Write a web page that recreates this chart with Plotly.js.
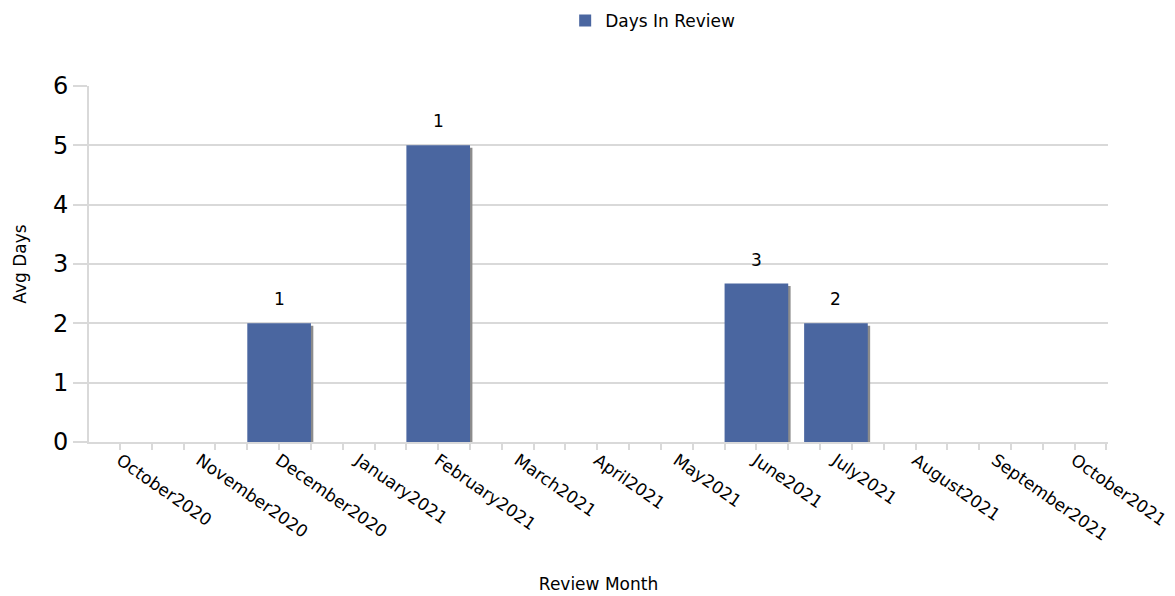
<!DOCTYPE html>
<html><head><meta charset="utf-8">
<script src="https://cdn.plot.ly/plotly-3.0.1.min.js"></script>
<style>body{margin:0;background:#fff}#c{width:1175px;height:596px}</style>
</head><body><div id="c"></div>
<script>
const months = ["October2020","November2020","December2020","January2021","February2021","March2021","April2021","May2021","June2021","July2021","August2021","September2021","October2021"];
const avgDays = [null,null,2,null,5,null,null,null,2.67,2,null,null,null];
const counts = ["","","1","","1","","","","3","2","","",""];

const idx = months.map((m,i)=>i);
const FONT = "DejaVu Sans, Noto Sans, sans-serif";
const BLUE = "#4a66a0";

const shadow = {
  type:"bar", x: idx, y: avgDays, base: -0.04, width: 0.8, offset: -0.37,
  marker:{color:"#8c8c8c"}, hoverinfo:"skip", showlegend:false
};
const bars = {
  type:"bar", x: idx, y: avgDays, width: 0.8, name:"Days In Review",
  marker:{color:BLUE}
};
const labels = idx.filter(i => avgDays[i] !== null).map(i => ({
  x: i, y: avgDays[i], xref:"x", yref:"y", text: counts[i], showarrow:false,
  yanchor:"bottom", yshift: 12, font:{family:FONT, size:17, color:"#000"}
}));

Plotly.newPlot("c",[shadow,bars],{
  width:1175, height:596,
  margin:{l:89, r:67, t:86, b:154, autoexpand:false},
  paper_bgcolor:"#fff", plot_bgcolor:"#fff",
  barmode:"overlay",
  font:{family:FONT, color:"#000"},
  showlegend:true,
  annotations: labels,
  legend:{orientation:"h", xref:"container", yref:"container", x:0.481, xanchor:"left", y:0.995, yanchor:"top", font:{size:17, family:FONT}},
  xaxis:{
    range:[-0.39,12.42],
    tickmode:"array", tickvals: idx, ticktext: months, tickangle:35,
    tickfont:{size:17, family:FONT}, ticks:"", showgrid:false, zeroline:false,
    showline:true, linecolor:"#d9d9d9", linewidth:2,
    minor:{dtick:0.4, tick0:0, ticks:"outside", ticklen:6, tickcolor:"#d9d9d9", tickwidth:2, showgrid:false},
    title:{text:"Review Month", font:{size:17, family:FONT}, standoff:34}
  },
  yaxis:{
    range:[0,6], dtick:1, tickfont:{size:24, family:FONT},
    showgrid:true, gridcolor:"#d9d9d9", gridwidth:2,
    ticks:"outside", ticklen:14, tickcolor:"#d9d9d9", tickwidth:2,
    showline:true, linecolor:"#d9d9d9", linewidth:2, zeroline:false,
    title:{text:"Avg Days", font:{size:17, family:FONT}, standoff:22}
  }
},{displayModeBar:false, staticPlot:true});
</script></body></html>
